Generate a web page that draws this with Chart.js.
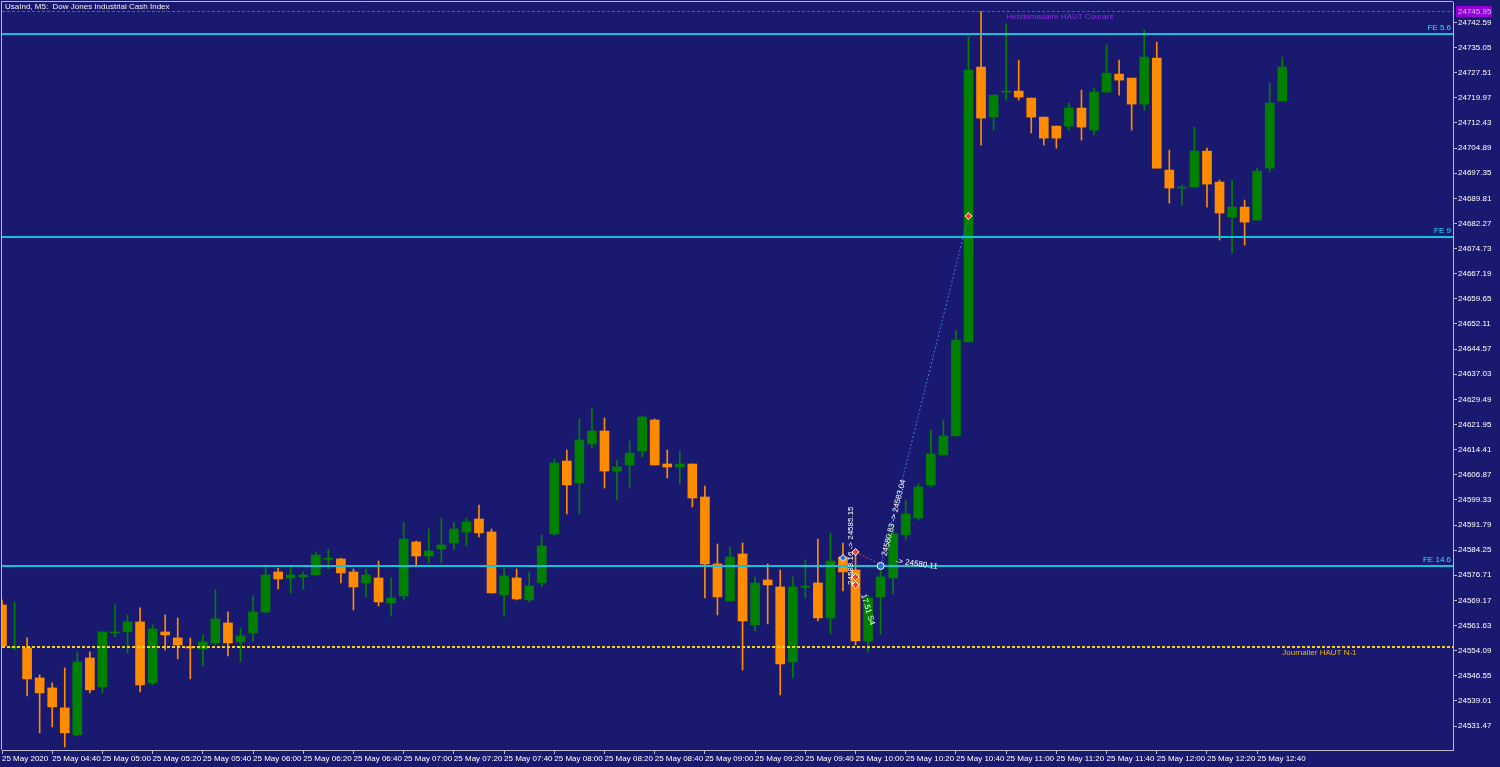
<!DOCTYPE html>
<html>
<head>
<meta charset="utf-8">
<script src="https://cdn.jsdelivr.net/npm/chart.js@4.4.1/dist/chart.umd.min.js"></script>
<style>
  html, body { margin: 0; padding: 0; background: #191970; overflow: hidden; }
  #wrap { width: 1500px; height: 767px; }
</style>
</head>
<body>
<div id="wrap"><canvas id="chart" width="1500" height="767"></canvas></div>
<script>
// --- données (UsaInd M5, 25 mai 2020) ---
const times = [
  '04:20','04:25','04:30','04:35','04:40','04:45','04:50','04:55',
  '05:00','05:05','05:10','05:15','05:20','05:25','05:30','05:35','05:40','05:45','05:50','05:55',
  '06:00','06:05','06:10','06:15','06:20','06:25','06:30','06:35','06:40','06:45','06:50','06:55',
  '07:00','07:05','07:10','07:15','07:20','07:25','07:30','07:35','07:40','07:45','07:50','07:55',
  '08:00','08:05','08:10','08:15','08:20','08:25','08:30','08:35','08:40','08:45','08:50','08:55',
  '09:00','09:05','09:10','09:15','09:20','09:25','09:30','09:35','09:40','09:45','09:50','09:55',
  '10:00','10:05','10:10','10:15','10:20','10:25','10:30','10:35','10:40','10:45','10:50','10:55',
  '11:00','11:05','11:10','11:15','11:20','11:25','11:30','11:35','11:40','11:45','11:50','11:55',
  '12:00','12:05','12:10','12:15','12:20','12:25','12:30','12:35','12:40','12:45','12:50'
];

const opens = [
  24567.8, 24554.9, 24554.9, 24545.9, 24542.9, 24536.9, 24528.8, 24551.9,
  24543.2, 24559.4, 24559.7, 24562.7, 24544.4, 24559.7, 24557.9, 24555.2, 24554.6, 24556.4, 24562.4, 24556.7,
  24559.4, 24565.7, 24577.7, 24575.9, 24576.2, 24576.8, 24581.5, 24581.6, 24577.7, 24574.4, 24575.9, 24568.4,
  24570.5, 24586.7, 24582.5, 24584.6, 24586.4, 24589.7, 24593.6, 24589.7, 24570.8, 24575.9, 24569.3, 24574.4,
  24589.1, 24611.0, 24604.4, 24616.1, 24620.0, 24608.0, 24609.8, 24614.0, 24623.3, 24610.1, 24609.2, 24610.1,
  24600.2, 24580.1, 24569.0, 24583.1, 24561.8, 24575.3, 24573.2, 24550.7, 24573.1, 24574.4, 24563.9, 24582.2,
  24578.3, 24557.0, 24570.2, 24575.9, 24588.8, 24593.9, 24603.8, 24612.8, 24618.5, 24646.7, 24729.2, 24714.2,
  24721.7, 24722.0, 24719.9, 24714.2, 24711.5, 24711.5, 24716.9, 24710.3, 24721.7, 24727.1, 24725.9, 24718.1,
  24731.9, 24698.3, 24692.9, 24693.2, 24704.0, 24694.7, 24684.2, 24687.2, 24683.3, 24698.9, 24719.0
];
const highs = [
  24569.3, 24568.7, 24557.9, 24546.8, 24544.4, 24548.9, 24553.7, 24553.7,
  24559.7, 24567.8, 24564.8, 24566.9, 24561.8, 24564.8, 24563.9, 24557.9, 24558.8, 24572.3, 24565.7, 24560.9,
  24570.5, 24579.8, 24578.9, 24578.9, 24577.7, 24583.7, 24584.6, 24581.9, 24578.6, 24578.6, 24581.0, 24575.9,
  24592.7, 24587.0, 24590.6, 24593.9, 24592.7, 24593.9, 24597.8, 24590.6, 24578.9, 24578.6, 24577.7, 24588.8,
  24611.6, 24614.3, 24623.6, 24626.9, 24623.9, 24611.3, 24617.0, 24624.5, 24623.6, 24614.3, 24614.0, 24610.1,
  24603.5, 24586.1, 24585.2, 24586.4, 24576.2, 24580.1, 24578.3, 24576.2, 24581.3, 24587.6, 24589.4, 24586.4,
  24584.3, 24570.8, 24579.2, 24591.8, 24599.3, 24604.1, 24620.3, 24623.3, 24650.3, 24738.2, 24745.9, 24720.8,
  24742.1, 24731.3, 24719.9, 24714.2, 24711.5, 24718.4, 24722.3, 24722.9, 24735.8, 24731.3, 24725.9, 24740.3,
  24736.7, 24704.3, 24693.8, 24711.2, 24704.9, 24695.3, 24695.3, 24689.3, 24698.9, 24724.4, 24732.2
];
const lows = [
  24554.9, 24554.3, 24540.5, 24529.4, 24531.2, 24525.2, 24528.8, 24541.4,
  24541.4, 24558.2, 24553.4, 24541.7, 24543.8, 24554.3, 24551.6, 24545.6, 24549.5, 24555.8, 24552.5, 24550.7,
  24557.0, 24565.4, 24572.6, 24571.4, 24572.6, 24576.8, 24578.6, 24574.4, 24566.3, 24570.2, 24567.5, 24564.5,
  24569.3, 24579.2, 24580.4, 24580.4, 24584.3, 24585.5, 24588.2, 24571.4, 24564.5, 24569.3, 24568.7, 24573.2,
  24588.8, 24595.1, 24595.1, 24614.9, 24602.9, 24599.3, 24602.9, 24612.2, 24609.8, 24605.9, 24604.1, 24597.2,
  24569.9, 24564.8, 24569.0, 24548.3, 24560.0, 24562.1, 24540.8, 24545.9, 24569.9, 24563.0, 24559.1, 24572.0,
  24555.8, 24553.7, 24559.1, 24571.1, 24587.3, 24593.3, 24603.2, 24612.8, 24618.5, 24646.7, 24705.8, 24710.3,
  24719.3, 24719.3, 24709.4, 24705.8, 24704.9, 24710.3, 24707.3, 24708.8, 24721.7, 24720.8, 24710.3, 24716.3,
  24698.9, 24688.4, 24687.8, 24693.2, 24687.2, 24677.3, 24673.4, 24675.8, 24683.3, 24697.7, 24719.0
];
const closes = [
  24555.5, 24555.2, 24545.6, 24541.4, 24537.2, 24529.4, 24550.7, 24542.3,
  24559.7, 24559.7, 24562.7, 24543.8, 24560.6, 24558.8, 24555.8, 24554.9, 24556.7, 24563.6, 24556.4, 24558.5,
  24565.7, 24576.8, 24575.6, 24576.8, 24576.8, 24582.8, 24581.7, 24577.4, 24573.2, 24576.8, 24568.7, 24569.9,
  24587.6, 24582.5, 24584.0, 24585.8, 24590.6, 24592.7, 24589.4, 24571.4, 24576.5, 24569.6, 24573.5, 24585.5,
  24610.4, 24603.8, 24617.3, 24620.0, 24608.0, 24609.2, 24613.4, 24624.2, 24609.8, 24609.2, 24610.1, 24599.9,
  24580.1, 24570.2, 24582.2, 24563.0, 24574.4, 24573.8, 24550.1, 24573.2, 24573.3, 24563.9, 24581.0, 24577.7,
  24557.0, 24569.9, 24576.2, 24589.1, 24595.1, 24603.2, 24613.1, 24618.5, 24647.3, 24728.3, 24713.9, 24720.8,
  24722.0, 24720.2, 24714.2, 24707.9, 24707.9, 24716.9, 24711.2, 24721.7, 24727.4, 24725.3, 24718.1, 24732.2,
  24698.9, 24692.9, 24693.2, 24704.0, 24694.1, 24685.4, 24687.2, 24682.7, 24698.0, 24718.4, 24729.2
];

// graduations de l'axe des prix (droite)
const yTicks = [
  24742.59, 24735.05, 24727.51, 24719.97, 24712.43, 24704.89, 24697.35, 24689.81, 24682.27, 24674.73,
  24667.19, 24659.65, 24652.11, 24644.57, 24637.03, 24629.49, 24621.95, 24614.41, 24606.87, 24599.33,
  24591.79, 24584.25, 24576.71, 24569.17, 24561.63, 24554.09, 24546.55, 24539.01, 24531.47
];
// graduations de l'axe du temps
const xTickTimes = ['04:20','04:40','05:00','05:20','05:40','06:00','06:20','06:40','07:00','07:20','07:40',
  '08:00','08:20','08:40','09:00','09:20','09:40','10:00','10:20','10:40','11:00','11:20','11:40',
  '12:00','12:20','12:40'];

// niveaux horizontaux
const levelPrices = [24739.14, 24678.22, 24579.48];
const levelNames = ['FE 5.6', 'FE 9', 'FE 14.6'];
const dailyHigh = 24555.18;    // Journalier HAUT N-1
const weeklyHigh = 24745.95;   // Hebdomadaire HAUT Courant

const BG = '#191970';
const UP = '#008000';
const DOWN = '#ff8c00';
const AXIS = '#b8b8cc';
const CYAN = '#12c2d8';
const FONT = '"Liberation Sans", Arial, sans-serif';

function candleColor(i) {
  return closes[i] >= opens[i] ? UP : DOWN;
}

const bodyData = times.map((t, i) => ({ x: i, y: [opens[i], closes[i]] }));
const wickData = times.map((t, i) => ({ x: i, y: [lows[i], highs[i]] }));
const barColors = times.map((t, i) => candleColor(i));

// fond + cadre
const bgPlugin = {
  id: 'bg',
  beforeDraw(chart) {
    const c = chart.ctx;
    c.save();
    c.fillStyle = BG;
    c.fillRect(0, 0, chart.width, chart.height);
    c.restore();
  },
  afterDraw(chart) {
    const c = chart.ctx;
    const a = chart.chartArea;
    c.save();
    c.strokeStyle = AXIS;
    c.lineWidth = 1;
    c.beginPath();
    c.moveTo(a.left - 0.5, a.bottom);
    c.lineTo(a.left - 0.5, a.top - 0.5);
    c.lineTo(a.right, a.top - 0.5);
    c.stroke();
    // titre
    c.fillStyle = '#f0f0f0';
    c.font = '8px ' + FONT;
    c.textBaseline = 'top';
    c.fillText('UsaInd, M5:  Dow Jones Industrial Cash Index', 5, 3);
    // étiquette de prix du plus haut hebdo
    const ys = chart.scales.y;
    const yy = Math.round(ys.getPixelForValue(weeklyHigh));
    c.fillStyle = '#9400d3';
    c.fillRect(a.right + 3, yy - 5, 36, 11);
    c.fillStyle = '#d9b3ff';
    c.textBaseline = 'middle';
    c.fillText(weeklyHigh.toFixed(2), a.right + 5, yy + 0.5);
    c.restore();
  }
};

// niveaux, textes, marques de trades
const overlayPlugin = {
  id: 'overlay',
  afterDatasetsDraw(chart) {
    const c = chart.ctx;
    const a = chart.chartArea;
    const xs = chart.scales.x;
    const ys = chart.scales.y;
    c.save();
    c.beginPath();
    c.rect(a.left, a.top, a.right - a.left, a.bottom - a.top);
    c.clip();
    c.font = '8px ' + FONT;

    // lignes FE
    levelPrices.forEach((p, k) => {
      const y = Math.round(ys.getPixelForValue(p));
      c.strokeStyle = CYAN;
      c.lineWidth = 2;
      c.setLineDash([]);
      c.beginPath();
      c.moveTo(a.left, y);
      c.lineTo(a.right, y);
      c.stroke();
      c.fillStyle = '#22e4f4';
      c.textAlign = 'right';
      c.textBaseline = 'bottom';
      c.fillText(levelNames[k], a.right - 2, y - 2);
    });

    // Journalier HAUT N-1
    let y = Math.round(ys.getPixelForValue(dailyHigh));
    c.strokeStyle = '#ffd000';
    c.lineWidth = 2;
    c.setLineDash([3, 2]);
    c.beginPath();
    c.moveTo(a.left, y);
    c.lineTo(a.right, y);
    c.stroke();
    c.setLineDash([]);
    c.lineWidth = 1;
    c.fillStyle = '#e8b820';
    c.textAlign = 'left';
    c.textBaseline = 'top';
    c.fillText('Journalier HAUT N-1', xs.getPixelForValue(102), y + 2);

    // Hebdomadaire HAUT Courant
    y = Math.round(ys.getPixelForValue(weeklyHigh)) + 0.5;
    c.strokeStyle = '#9a2fd8';
    c.setLineDash([3, 2]);
    c.beginPath();
    c.moveTo(a.left, y);
    c.lineTo(a.right, y);
    c.stroke();
    c.setLineDash([]);
    c.fillStyle = '#8a2be2';
    c.fillText('Hebdomadaire HAUT Courant', xs.getPixelForValue(80), y + 1);

    // trade : ligne pointillée entrée -> sortie
    const px = (i) => xs.getPixelForValue(i);
    const py = (p) => ys.getPixelForValue(p);
    c.strokeStyle = '#3a7be0';
    c.setLineDash([2, 2]);
    c.beginPath();
    c.moveTo(px(70), py(24579.5));
    c.lineTo(px(77), py(24684.5));
    c.stroke();
    c.strokeStyle = '#e04020';
    c.beginPath();
    c.moveTo(px(68), py(24583.6));
    c.lineTo(px(70), py(24580.0));
    c.stroke();
    c.setLineDash([]);

    // marqueurs
    function diamond(x, yv, fill, stroke) {
      c.fillStyle = fill;
      c.strokeStyle = stroke;
      c.lineWidth = 1;
      c.beginPath();
      c.moveTo(x, yv - 3.5);
      c.lineTo(x + 3.5, yv);
      c.lineTo(x, yv + 3.5);
      c.lineTo(x - 3.5, yv);
      c.closePath();
      c.fill();
      c.stroke();
    }
    diamond(px(77), py(24684.5), '#ff3b1e', '#ffffff');
    diamond(px(67), py(24581.9), '#2b6fd6', '#ffffff');
    diamond(px(68), py(24583.7), '#ff3b1e', '#ffffff');
    diamond(px(68), py(24576.2), '#ff3b1e', '#ffffff');
    diamond(px(68), py(24573.8), '#ff3b1e', '#ffffff');
    c.fillStyle = '#2b6fd6';
    c.strokeStyle = '#ffffff';
    c.beginPath();
    c.arc(px(70), py(24579.5), 3.5, 0, Math.PI * 2);
    c.fill();
    c.stroke();

    // textes des trades (tournés)
    function rtext(txt, i, p, deg) {
      c.save();
      c.translate(px(i), py(p));
      c.rotate(deg * Math.PI / 180);
      c.fillStyle = '#ffffff';
      c.textAlign = 'left';
      c.textBaseline = 'middle';
      c.fillText(txt, 0, 0);
      c.restore();
    }
    rtext('24583.16 -> 24585.15', 67.6, 24573.8, -90);
    rtext('24580.83 -> 24583.04', 70.3, 24582.5, -76);
    rtext('-> 24580.11', 71.2, 24581.0, 8);
    rtext('17.51 S4', 68.6, 24571.0, 73);

    c.restore();
  }
};

new Chart(document.getElementById('chart'), {
  type: 'bar',
  data: {
    datasets: [
      {
        label: 'corps',
        data: bodyData,
        backgroundColor: barColors,
        borderWidth: 0,
        barThickness: 9,
        minBarLength: 1,
        grouped: false
      },
      {
        label: 'mèches',
        data: wickData,
        backgroundColor: barColors,
        borderWidth: 0,
        barThickness: 1,
        minBarLength: 1,
        grouped: false
      }
    ]
  },
  options: {
    responsive: false,
    animation: false,
    layout: { padding: { top: 2, left: 2, right: 0, bottom: 0 } },
    plugins: { legend: { display: false }, tooltip: { enabled: false } },
    scales: {
      x: {
        type: 'linear',
        offset: false,
        min: 0,
        max: 115.6,
        grid: { display: true, offset: false, drawOnChartArea: false, drawTicks: true, tickLength: 4, color: AXIS },
        border: { display: true, color: AXIS },
        afterFit(s) { s.height = 17; s.paddingLeft = 0; s.paddingRight = 0; },
        afterBuildTicks(s) {
          s.ticks = xTickTimes.map(t => ({ value: times.indexOf(t) }));
        },
        ticks: {
          color: '#ffffff',
          font: { family: FONT, size: 8 },
          align: 'start',
          maxRotation: 0,
          autoSkip: false,
          padding: 0,
          callback(v) {
            const t = times[v];
            return t === '04:20' ? '25 May 2020' : '25 May ' + t;
          }
        }
      },
      y: {
        type: 'linear',
        position: 'right',
        min: 24524.27,
        max: 24748.74,
        grid: { display: true, drawOnChartArea: false, drawTicks: true, tickLength: 4, color: AXIS },
        border: { display: true, color: AXIS },
        afterFit(s) { s.width = 47; s.paddingTop = 0; s.paddingBottom = 0; },
        afterBuildTicks(s) {
          s.ticks = yTicks.map(v => ({ value: v }));
        },
        ticks: {
          color: '#ffffff',
          font: { family: FONT, size: 8 },
          autoSkip: false,
          padding: 1,
          callback(v) { return Number(v).toFixed(2); }
        }
      }
    }
  },
  plugins: [bgPlugin, overlayPlugin]
});
</script>
</body>
</html>
